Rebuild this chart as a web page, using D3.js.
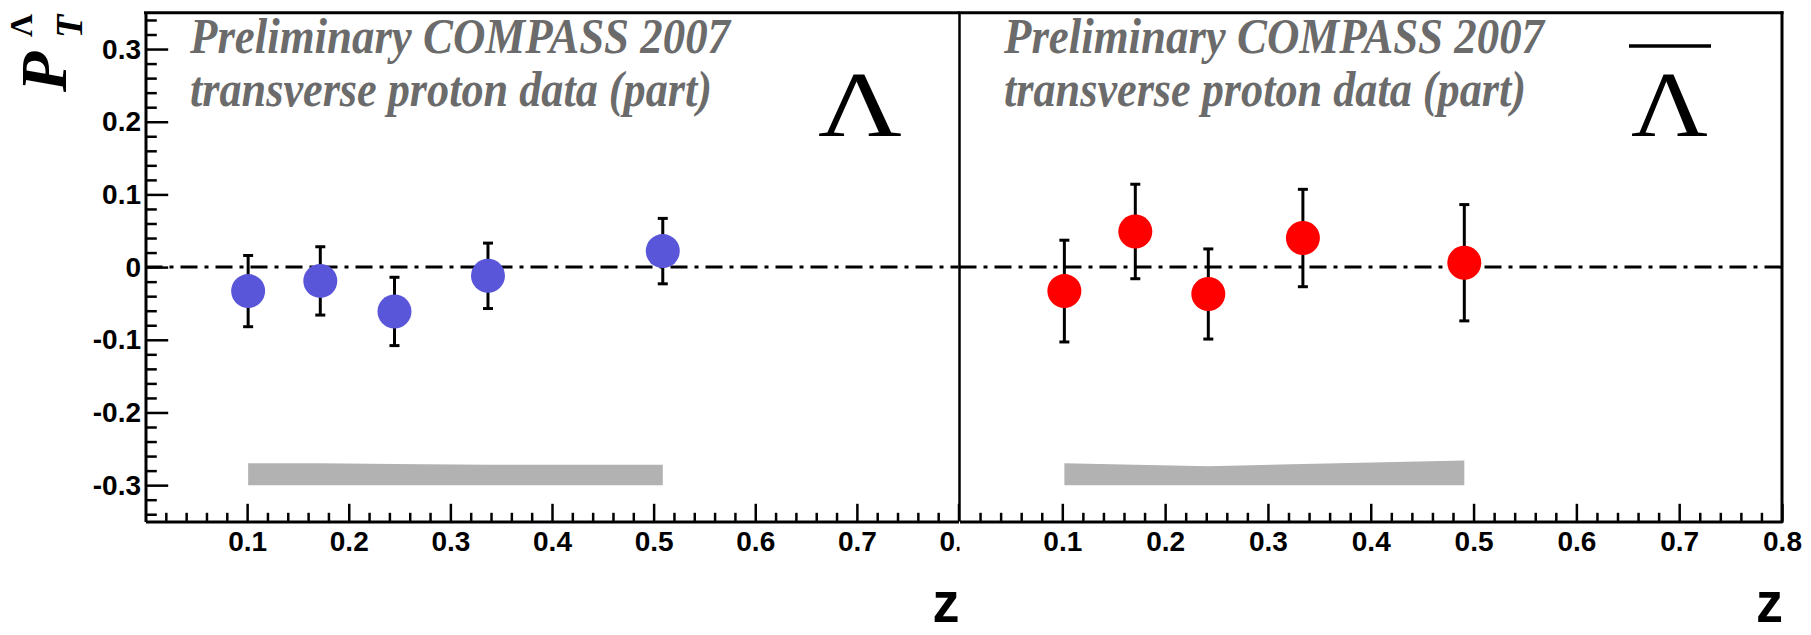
<!DOCTYPE html>
<html>
<head>
<meta charset="utf-8">
<script src="https://cdn.jsdelivr.net/npm/d3@7"></script>
<style>
  html, body { margin: 0; padding: 0; background: #fff; }
  svg { display: block; }
</style>
</head>
<body>
<svg id="chart" width="1811" height="635"></svg>
<script>
// ---------------- data ----------------
const lambdaZ      = [0.101, 0.172, 0.245, 0.337, 0.509];
const lambdaP      = [-0.033, -0.019, -0.061, -0.012, 0.022];
const lambdaErr    = [0.049, 0.047, 0.047, 0.045, 0.045];
const lambdaSys    = [0.030, 0.030, 0.029, 0.028, 0.028];

const antiLambdaZ   = [0.102, 0.171, 0.242, 0.334, 0.491];
const antiLambdaP   = [-0.033, 0.049, -0.037, 0.040, 0.006];
const antiLambdaErr = [0.070, 0.065, 0.062, 0.067, 0.080];
const antiLambdaSys = [0.030, 0.028, 0.026, 0.029, 0.034];

const sysBase = -0.3;
const yMajorTicks = [-0.3, -0.2, -0.1, 0, 0.1, 0.2, 0.3];
const yTickLabels = ["-0.3", "-0.2", "-0.1", "0", "0.1", "0.2", "0.3"];
const xMajorTicks = [0.1, 0.2, 0.3, 0.4, 0.5, 0.6, 0.7, 0.8];
const xTickLabels = ["0.1", "0.2", "0.3", "0.4", "0.5", "0.6", "0.7", "0.8"];
const infoLines = ["Preliminary COMPASS 2007", "transverse proton data (part)"];
const yTitle = {main: "P", sup: "\u039B", sub: "T"};
const xTitle = "z";

// ---------------- layout ----------------
const svg = d3.select("#chart");
const yTop = 12.7, yBot = 521.5;
const panels = [
  {x0: 145.5, x1: 958.5, z: lambdaZ, p: lambdaP, err: lambdaErr, sys: lambdaSys,
   color: "#5a56d9", textX: 190, bar: false, symX: 818, symW: 84},
  {x0: 959.5, x1: 1782, z: antiLambdaZ, p: antiLambdaP, err: antiLambdaErr, sys: antiLambdaSys,
   color: "#ff0000", textX: 1004, bar: true, symX: 1631, symW: 77}
];

const y = d3.scaleLinear().domain([-0.35, 0.35]).range([yBot, yTop]);

function minorTicks(lo, hi, step, majors) {
  const out = [];
  const n = Math.round((hi - lo) / step);
  for (let i = 0; i <= n; i++) {
    const v = +(lo + i * step).toFixed(4);
    if (!majors.some(m => Math.abs(m - v) < 1e-6)) out.push(v);
  }
  return out;
}

panels.forEach((pn, idx) => {
  const g = svg.append("g");
  if (idx === 1) {
    // right pad drawn over the left one
    g.append("rect").attr("x", pn.x0).attr("y", 0)
      .attr("width", 1811 - pn.x0).attr("height", 635).attr("fill", "#fff");
  }
  const x = d3.scaleLinear().domain([0, 0.8]).range([pn.x0, pn.x1]);

  // systematic band
  const area = d3.area()
    .x((d, i) => x(pn.z[i]))
    .y0(() => y(sysBase))
    .y1((d, i) => y(sysBase + pn.sys[i]));
  g.append("path").datum(pn.sys).attr("d", area).attr("fill", "#b2b2b2");

  // zero line
  g.append("line").attr("x1", pn.x0).attr("x2", pn.x1)
    .attr("y1", y(0)).attr("y2", y(0))
    .attr("stroke", "#000").attr("stroke-width", 3)
    .attr("stroke-dasharray", "17,7,4,7");

  // error bars
  const eb = g.append("g").attr("stroke", "#000").attr("stroke-width", 3);
  pn.z.forEach((zv, i) => {
    const cx = x(zv), lo = y(pn.p[i] - pn.err[i]), hi = y(pn.p[i] + pn.err[i]);
    eb.append("line").attr("x1", cx).attr("x2", cx).attr("y1", lo).attr("y2", hi);
    eb.append("line").attr("x1", cx - 5).attr("x2", cx + 5).attr("y1", lo).attr("y2", lo);
    eb.append("line").attr("x1", cx - 5).attr("x2", cx + 5).attr("y1", hi).attr("y2", hi);
  });
  // markers
  g.append("g").selectAll("circle").data(pn.z).join("circle")
    .attr("cx", d => x(d)).attr("cy", (d, i) => y(pn.p[i])).attr("r", 17)
    .attr("fill", pn.color);

  // x axis (ticks inward)
  const xAxis = d3.axisBottom(x).tickValues(xMajorTicks)
    .tickFormat((d, i) => xTickLabels[i])
    .tickSizeInner(-17.7).tickSizeOuter(0).tickPadding(9.5);
  const xa = g.append("g").attr("transform", `translate(0,${yBot})`).call(xAxis);
  xa.select(".domain").attr("stroke-width", 3);
  xa.selectAll(".tick line").attr("stroke-width", 2.5);
  xa.selectAll("text").attr("font-family", "Liberation Sans, Arial, sans-serif")
    .attr("font-weight", "bold").attr("font-size", 28).attr("fill", "#000");
  const xMinor = d3.axisBottom(x).tickValues(minorTicks(0.02, 0.78, 0.02, xMajorTicks))
    .tickFormat("").tickSizeInner(-8.7).tickSizeOuter(0);
  const xm = g.append("g").attr("transform", `translate(0,${yBot})`).call(xMinor);
  xm.select(".domain").remove();
  xm.selectAll(".tick line").attr("stroke-width", 2.5);

  // frame
  g.append("line").attr("x1", pn.x0 - 1.5).attr("x2", pn.x1 + 1.5).attr("y1", yTop).attr("y2", yTop)
    .attr("stroke", "#000").attr("stroke-width", 3);
  if (idx === 0) {
    const yAxis = d3.axisLeft(y).tickValues(yMajorTicks)
      .tickFormat((d, i) => yTickLabels[i])
      .tickSizeInner(-22.7).tickSizeOuter(0).tickPadding(4.5);
    const ya = g.append("g").attr("transform", `translate(${pn.x0},0)`).call(yAxis);
    ya.select(".domain").attr("stroke-width", 3);
    ya.selectAll(".tick line").attr("stroke-width", 2.5);
    ya.selectAll("text").attr("font-family", "Liberation Sans, Arial, sans-serif")
      .attr("font-weight", "bold").attr("font-size", 28).attr("fill", "#000");
    const yMinor = d3.axisLeft(y).tickValues(minorTicks(-0.34, 0.34, 0.02, yMajorTicks))
      .tickFormat("").tickSizeInner(-11.3).tickSizeOuter(0);
    const ym = g.append("g").attr("transform", `translate(${pn.x0},0)`).call(yMinor);
    ym.select(".domain").remove();
    ym.selectAll(".tick line").attr("stroke-width", 2.5);
  } else {
    g.append("line").attr("x1", pn.x0).attr("x2", pn.x0).attr("y1", yTop).attr("y2", yBot)
      .attr("stroke", "#000").attr("stroke-width", 2.5);
    g.append("line").attr("x1", pn.x1).attr("x2", pn.x1).attr("y1", yTop - 1.5).attr("y2", yBot + 1.5)
      .attr("stroke", "#000").attr("stroke-width", 3);
  }

  // info text
  const t = g.append("g").attr("font-family", "Liberation Serif, Times New Roman, serif")
    .attr("font-weight", "bold").attr("font-style", "italic").attr("font-size", 50)
    .attr("fill", "#6b6b6b");
  t.append("text").attr("x", pn.textX).attr("y", 53).text(infoLines[0])
    .attr("textLength", 540).attr("lengthAdjust", "spacingAndGlyphs");
  t.append("text").attr("x", pn.textX).attr("y", 106).text(infoLines[1])
    .attr("textLength", 522).attr("lengthAdjust", "spacingAndGlyphs");

  // particle symbol
  g.append("text").attr("x", pn.symX).attr("y", 136).text("\u039B")
    .attr("font-family", "Liberation Serif, Times New Roman, serif")
    .attr("font-size", 93).attr("fill", "#000")
    .attr("textLength", pn.symW).attr("lengthAdjust", "spacingAndGlyphs");
  if (pn.bar) {
    g.append("line").attr("x1", pn.symX - 2).attr("x2", pn.symX + pn.symW + 3)
      .attr("y1", 46).attr("y2", 46).attr("stroke", "#000").attr("stroke-width", 3.5);
  }

  // x title
  g.append("text").attr("x", pn.x1 + 1).attr("y", 622).attr("text-anchor", "end")
    .attr("font-family", "Liberation Sans, Arial, sans-serif").attr("font-weight", "bold")
    .attr("font-size", 58).attr("fill", "#000")
    .attr("textLength", 27).attr("lengthAdjust", "spacingAndGlyphs").text(xTitle);
});

// y title (rotated)
const yt = svg.append("g").attr("transform", "translate(66,92) rotate(-90)")
  .attr("font-family", "Liberation Serif, Times New Roman, serif").attr("fill", "#000");
yt.append("text").attr("x", 0).attr("y", 0).attr("font-size", 66)
  .attr("font-weight", "bold").attr("font-style", "italic").text(yTitle.main);
yt.append("text").attr("x", 55).attr("y", -34).attr("font-size", 32)
  .attr("font-weight", "bold").text(yTitle.sup);
yt.append("text").attr("x", 54).attr("y", 16).attr("font-size", 38)
  .attr("font-weight", "bold").attr("font-style", "italic").text(yTitle.sub);
</script>
</body>
</html>
